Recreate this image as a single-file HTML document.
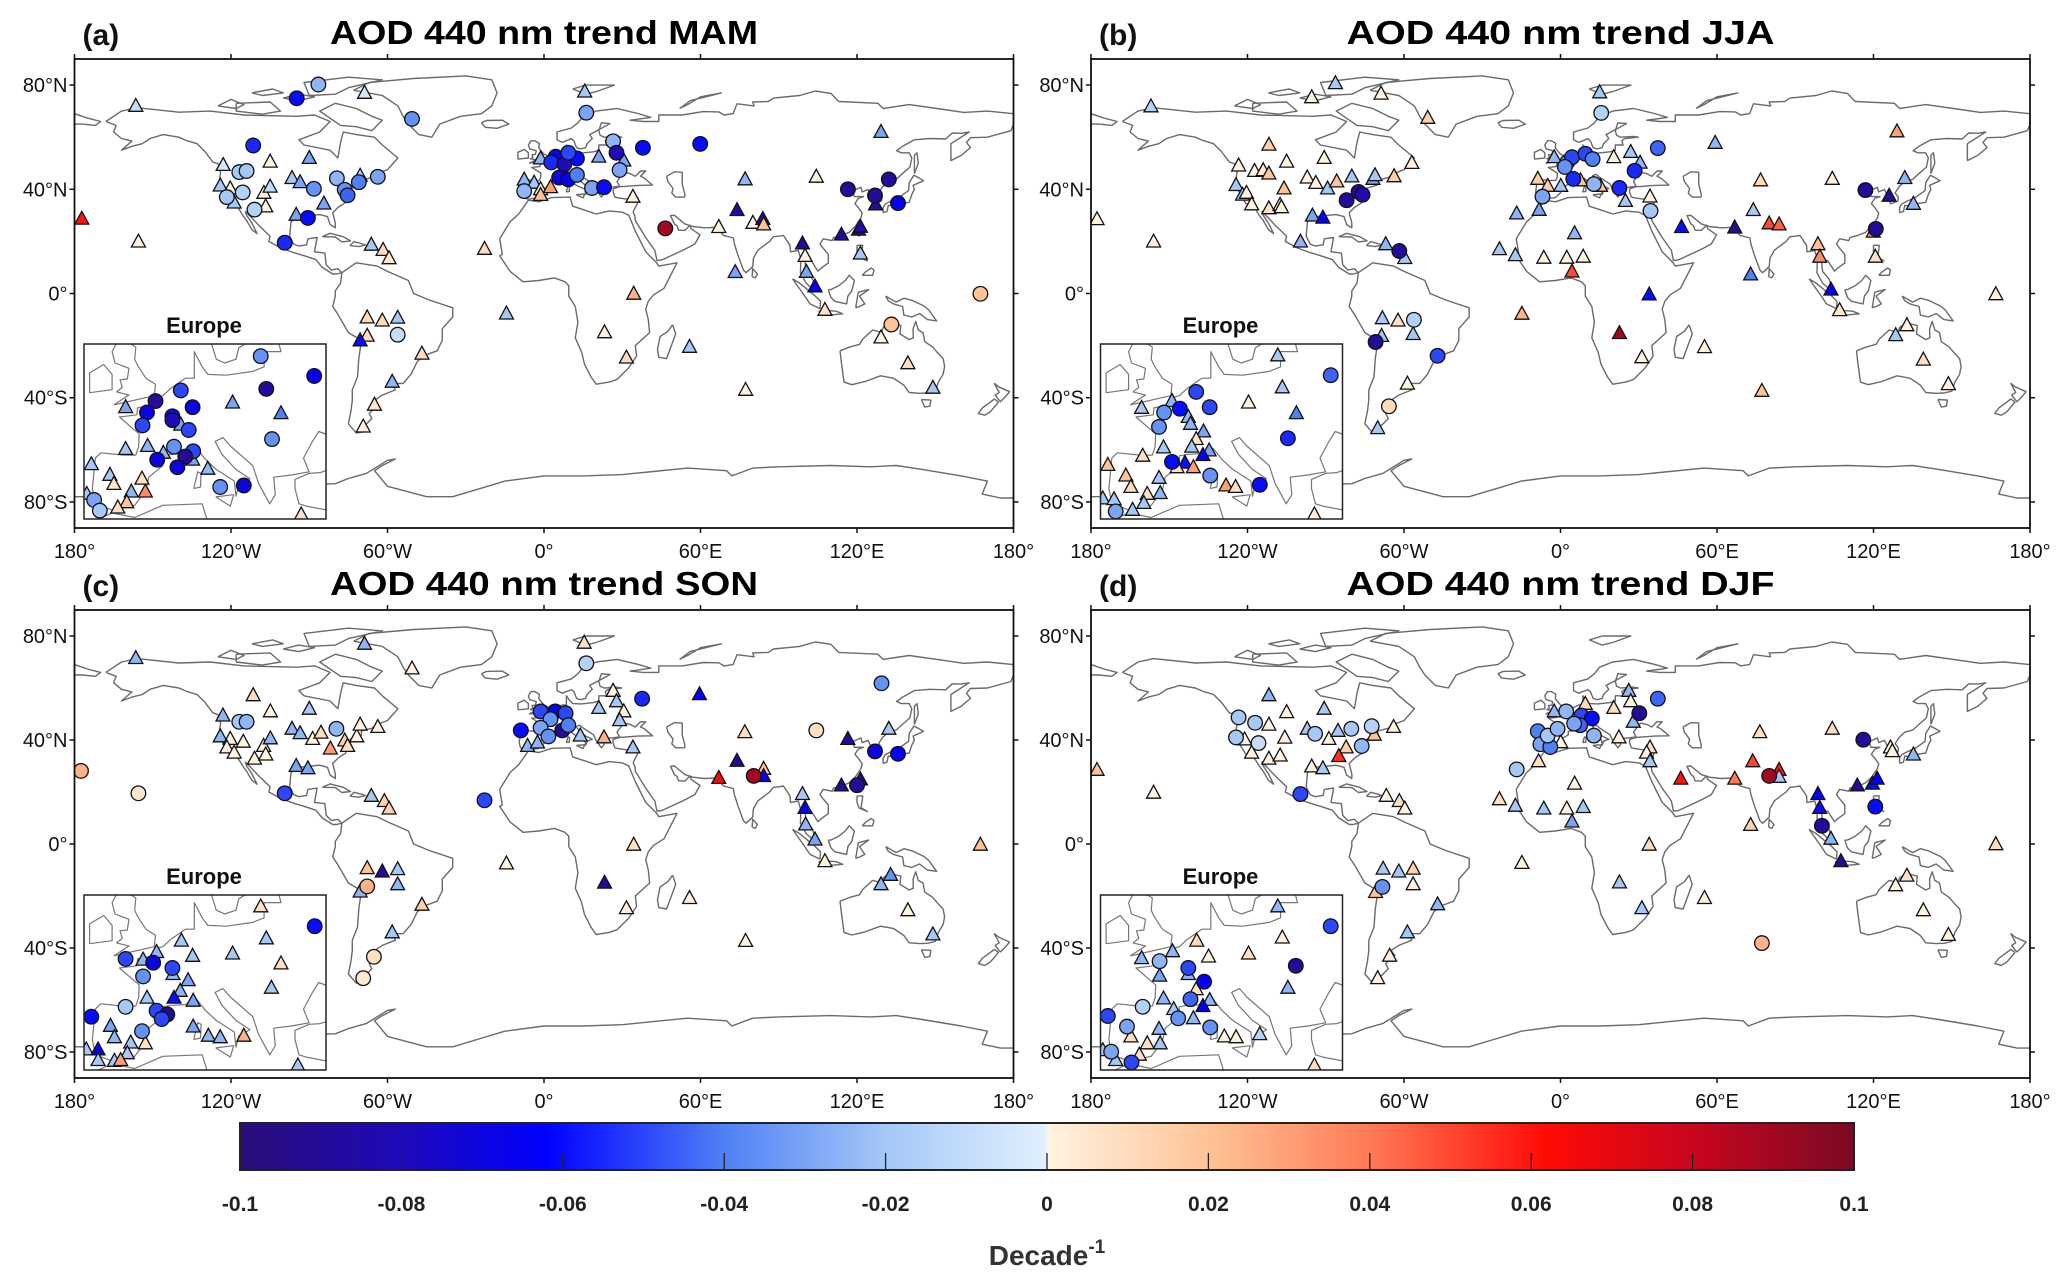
<!DOCTYPE html>
<html><head><meta charset="utf-8"><title>AOD 440 nm seasonal trends</title>
<style>
html,body{margin:0;padding:0;background:#fff;width:2067px;height:1282px;overflow:hidden;}
svg{display:block;font-family:"Liberation Sans",Arial,sans-serif;}
</style></head>
<body>
<svg id="fig" width="2067" height="1282" viewBox="0 0 2067 1282" xmlns="http://www.w3.org/2000/svg">
<defs id="defs"></defs>
</svg>
<script>
// ---------- colour scale ----------
const cbTicks = [-0.1,-0.08,-0.06,-0.04,-0.02,0,0.02,0.04,0.06,0.08,0.1];
const cbTickLabels = ["-0.1","-0.08","-0.06","-0.04","-0.02","0","0.02","0.04","0.06","0.08","0.1"];
const lonTicks = [-180,-120,-60,0,60,120,180];
const lonTickLabels = ["180°","120°W","60°W","0°","60°E","120°E","180°"];
const latTicks = [80,40,0,-40,-80];
const latTickLabels = ["80°N","40°N","0°","40°S","80°S"];

// ---------- panel data: [lon, lat, trend] ----------
const mamCircles = [[-86.5,80.2,-0.025],[-94.8,74.9,-0.06],[-50.6,67,-0.035],[-111.5,56.8,-0.055],[-116.8,46.6,-0.02],[-114,47,-0.02],[-79.4,44.2,-0.025],[-88.2,40.2,-0.035],[-71,42.7,-0.04],[-76.4,39.8,-0.035],[-75.3,37.7,-0.045],[-63.7,44.8,-0.03],[-121.6,37,-0.02],[-115.5,38.8,-0.015],[-111,32.2,-0.015],[-90.5,29,-0.06],[-99.4,19.5,-0.055],[-56.1,-15.8,-0.01],
[-7.6,39.3,-0.025],[4.5,52.5,-0.07],[2.8,50.3,-0.055],[7.8,49.6,-0.08],[12.6,51.8,-0.06],[9.3,54,-0.05],[5.8,44.5,-0.07],[9.3,43.8,-0.065],[12.6,45.5,-0.04],[18.4,40.5,-0.03],[23,40.8,-0.06],[29,47.4,-0.03],[26.5,58.4,-0.025],[27.8,54,-0.08],[37.9,55.9,-0.06],[16.2,69.4,-0.03],[59.9,57.4,-0.06],[46.5,25,0.09],
[116.5,40,-0.09],[132.2,43.8,-0.09],[126.9,37.6,-0.09],[135.7,34.7,-0.065],[167.3,-0.1,0.02],[133.2,-11.9,0.02]];
const mamTriangles = [[-68.8,77,-0.005],[-156.5,72,-0.01],[-90,52,-0.03],[-123,49.3,-0.005],[-105,50.6,0],[-96.6,44.3,-0.02],[-93.5,42.7,-0.03],[-70.5,45.2,-0.015],[-124.1,41.4,-0.02],[-120.3,40.3,0],[-118.8,34.9,-0.02],[-107.4,38.6,0],[-106.7,33.4,0],[-105,41,-0.01],[-95,30.2,-0.03],[-84.4,34.5,-0.03],[-177.2,28.7,0.06],[-155.5,19.9,0],[-66.2,18.7,-0.02],[-61.7,16.7,0.01],[-59.4,13.5,0.004],[-22.8,17.1,0.01],[-14.4,-7.7,-0.02],[-67.8,-9.2,0.01],[-62,-10.4,0.01],[-56.1,-9.3,-0.02],[-67.8,-16.2,0.01],[-70.5,-18,-0.06],[-46.8,-23.1,0.01],[-58.2,-33.9,-0.025],[-65,-42.7,0.005],[-69.3,-51.1,0],
[-1.3,51.8,-0.025],[-7.6,43.7,-0.025],[-3.8,42.5,-0.02],[-1.3,40,0],[2.5,40.8,0.03],[-1.3,37.8,0.02],[21,52.5,-0.03],[30.6,51,-0.03],[34.1,37.1,0],[15.6,77.5,-0.02],
[77.1,43.8,-0.025],[104.4,44.8,0],[74,32,-0.09],[67,25.5,0],[80.1,27.1,0],[83.9,28.6,-0.09],[84.2,26.5,0.02],[129.2,62,-0.03],[99.1,19.2,-0.09],[100.1,14.4,0],[114,22.6,-0.09],[120.6,24.5,-0.09],[121.3,25.6,-0.085],[121.3,15.3,-0.02],[100.6,8.3,-0.03],[103.9,2.7,-0.065],[107.7,-6.3,0.008],[73.3,8.2,-0.03],[34.4,-0.1,0.025],[23.2,-14.9,0],[31.6,-24.6,0.01],[55.8,-20.5,-0.02],[77.3,-37,0],[129.2,-16.9,0],[139.5,-26.8,0.01],[149.1,-36.2,-0.02],[127.1,34.2,-0.09]];
const mamInsetCircles = [[20.4,56.4,-0.035],[29.9,53.8,-0.065],[21.4,52.1,-0.09],[6.2,51.9,-0.05],[1.7,50.5,-0.09],[0.2,49,-0.07],[8.3,49.7,-0.07],[4.7,48.5,-0.06],[4.7,48,-0.08],[-0.6,47.3,-0.05],[7.6,46.7,-0.05],[5,44.5,-0.035],[8.4,43.9,-0.05],[7,43.2,-0.09],[2,42.8,-0.07],[5.6,41.8,-0.07],[22.4,45.5,-0.035],[13.2,39.2,-0.035],[17.4,39.4,-0.07],[-9.2,37.5,-0.03],[-8.2,36.1,-0.02]];
const mamInsetTriangles = [[-3.6,49.7,-0.03],[15.4,50.3,-0.03],[24,48.9,-0.04],[0.3,44.6,-0.025],[-3.6,44.2,-0.02],[-9.7,42.2,-0.02],[-6.4,40.8,-0.02],[-5.7,39.6,0.005],[-0.7,40.3,0.008],[-0.1,38.6,0.035],[-2.6,38.6,-0.025],[-3.4,37.2,0.02],[-5,36.5,0.008],[8.3,42.8,-0.03],[11,41.6,-0.025],[27.6,35.6,0.008],[6.2,47.4,-0.03],[3.1,43.7,-0.025],[-10.5,38.3,-0.02]];

const jjaCircles = [[15.6,69.3,-0.015],[37.3,55.8,-0.045],[-82,35.8,-0.09],[-77.4,39,-0.09],[-75.9,37.9,-0.085],[-61.8,16.3,-0.09],[-56.2,-10.1,-0.015],[-70.9,-18.6,-0.09],[-47.1,-23.9,-0.05],[-65.8,-43.3,0.01],
[2.7,50.5,-0.035],[4.4,52.3,-0.05],[9.5,53.6,-0.05],[12.3,51.6,-0.04],[4.9,44,-0.055],[12.8,42,-0.025],[22.6,40.5,-0.055],[28.4,47.1,-0.055],[-6.9,37.2,-0.03],[1.7,48.6,-0.035],[34.5,31.7,-0.02],[116.9,39.7,-0.09],[120.9,24.8,-0.09]];
const jjaTriangles = [[-86.3,80.7,-0.02],[-95.4,75.3,0],[-68.8,76.7,0],[-157,71.8,-0.015],[-50.9,67.4,0.015],[15,77.2,-0.02],[129,62.2,0.03],[59.3,57.8,-0.025],
[-111.8,57.1,0.015],[-105,50.6,0],[-90.6,52,0],[-123.4,49.1,0],[-117.3,47,0],[-114,47.3,0.004],[-111.8,46,0.02],[-106,40.3,0.02],[-97.1,44.5,0],[-93.8,42.4,0],[-89.3,40.3,-0.02],[-124.4,41.6,-0.02],[-121.9,37.9,-0.02],[-120.4,38.6,0],[-118.4,34.2,0],[-111.8,32.7,0.008],[-107.5,34,0],[-107,33.1,0],[-95.1,29.9,-0.03],[-91.1,29.1,-0.065],[-99.7,19.9,-0.025],[-85.8,43,0.02],[-80,44.9,-0.02],[-71.9,44,-0.03],[-71.1,45.4,-0.02],[-63.8,45,0.015],[-57,50.1,0],[-67,18.9,-0.025],[-59.7,13.6,-0.02],[-177.7,28.5,0],[-156,19.9,0],
[-68.3,-9.5,-0.02],[-62.3,-10.4,0.008],[-68.6,-16.3,-0.02],[-56.5,-15.6,-0.02],[-58.7,-34.6,0],[-70.1,-51.7,-0.02],
[-23.4,17,-0.02],[-17.3,14.7,-0.02],[-6.4,13.7,0],[2.4,13.7,0],[8.7,14.1,0],[5.4,23.1,-0.025],[-16.8,30.7,-0.025],[-8.2,32.1,-0.03],[4.4,8.4,0.05],[-14.8,-7.8,0.025],[34,-0.4,-0.06],[22.6,-15.2,0.09],[31.2,-24.5,0],[55.2,-20.6,0],
[-2.4,52.3,-0.025],[-8.7,44,0.015],[-4.9,41.3,0.015],[0.1,41.3,-0.02],[7.7,43.4,0.02],[20.4,52.3,0],[26.9,54.3,-0.02],[30.5,50.2,-0.025],[34.3,37.2,0],[24.9,35.5,-0.02],[15.3,41.3,0.02],
[104.2,44,0],[76.7,43.4,0.01],[73.9,32,-0.02],[46.4,25.5,-0.06],[66.8,25.3,-0.09],[80,26.9,0.05],[83.8,26.5,0.045],[98.7,18.9,0.02],[99.4,14.1,0.035],[72.9,7.3,-0.04],[103.7,1.5,-0.065],[107,-6.4,0.004],[120.7,14.1,0.008],[132,44.3,-0.025],[135.3,34.4,-0.025],[126,37.5,-0.09],[119.9,23.7,0.035],[166.9,-0.3,0],[132.8,-12.2,0],[128.5,-16,-0.02],[139.1,-25.4,0.008],[148.7,-34.8,0],[77.2,-37.4,0.02]];
const jjaInsetCircles = [[6,51.7,-0.05],[8.4,49.7,-0.05],[3.1,49.5,-0.06],[0.3,49,-0.035],[-0.6,47.1,-0.035],[22.3,45.6,-0.055],[29.9,53.9,-0.045],[1.7,42.5,-0.06],[8.5,40.7,-0.035],[17.3,39.5,-0.06],[-8.3,36,-0.03]];
const jjaInsetTriangles = [[20.5,56.5,-0.02],[21.3,52.3,-0.02],[15.3,50.3,0],[23.8,48.9,-0.04],[-3.7,49.6,-0.02],[1.7,50.5,-0.025],[4.6,48.4,-0.025],[5,47.5,-0.025],[7.3,46.5,-0.03],[6,45.5,0.008],[0.2,44.4,-0.02],[5.2,44.5,-0.02],[8.3,44,-0.03],[7.2,43.4,-0.065],[4,42.4,-0.06],[5.5,41.8,0.03],[2.6,41.8,0.008],[-3.5,43.3,0.008],[-9.7,42.1,0.02],[-6.5,40.7,0.02],[-5.6,39.2,0.01],[-0.6,40.4,-0.02],[-0.4,38.4,-0.025],[-2.7,38.3,0.008],[-3.3,37.1,-0.02],[-10.6,37.7,-0.02],[-8.6,37.6,-0.02],[-5.3,36.2,-0.02],[11.3,39.4,0.03],[13,39.2,0.008],[27,35.6,0]];

const sonCircles = [[-177.5,28.1,0.025],[-155.5,19.5,0.005],[-116.8,47,-0.02],[-114,47,-0.025],[-79.6,44.3,-0.025],[-99.4,19.5,-0.05],[-22.8,16.8,-0.05],[-67.8,-16.3,0.025],[-65.2,-43.4,0.008],[-69.3,-51.6,0.004],[16.2,69.5,-0.015],[37.6,55.9,-0.055],[129.4,61.8,-0.035],[104.4,43.7,0.008],[80.4,26.2,0.09],[126.9,35.6,-0.07],[135.7,34.7,-0.065],[120,22.6,-0.09],
[-8.9,43.7,-0.06],[-1.3,51,-0.05],[4.3,51,-0.065],[2.5,48,-0.035],[8.3,50.3,-0.05],[7,43.7,-0.09],[-1.3,44.7,-0.03],[1.7,41.4,-0.035],[9.3,45.7,-0.04]];
const sonTriangles = [[-156.5,71.5,-0.025],[-68.8,77,-0.025],[-50.6,67.5,0],[-111.5,57.2,0.01],[-123.1,49.4,-0.025],[-104.9,51,0],[-90,52,-0.02],[-96.6,44.3,-0.025],[-93.5,42.6,-0.025],[-88.7,40.4,0],[-85.5,42.8,0.01],[-81.9,36.7,0.03],[-76.4,39.8,0.015],[-75.3,37.7,0.008],[-71.8,41.4,0],[-70.5,45.9,0],[-63.7,45,0],[-124.1,41.4,-0.025],[-120.3,40.4,0],[-121.6,37.1,0],[-118.8,35.1,0],[-115.3,39.3,0],[-111,32.8,0],[-107.5,37.7,0],[-106.7,34.4,0],[-104.9,40.6,-0.025],[-95,30,-0.03],[-90.5,29.1,-0.03],[-66.2,18.5,-0.02],[-61.2,16.5,0.015],[-59.4,13.6,0.015],
[-67.8,-9.3,0.02],[-62,-10.6,-0.09],[-56.1,-9.7,-0.02],[-56.1,-15.5,-0.025],[-70.5,-18.3,-0.025],[-46.8,-23.4,0.015],[-58.2,-34,-0.02],
[-14.4,-7.5,0],[23.2,-14.9,-0.09],[31.6,-24.7,0],[55.8,-20.8,0],[77.3,-37.3,0],[34.4,-0.3,0.008],
[15.4,77.4,0.008],[26.5,58.9,0],[27.8,54.9,-0.02],[30.6,51,0],[29,47.6,-0.02],[21,52.3,-0.02],[23,41,0.025],[34.1,37.1,-0.02],[-6.3,37.7,-0.025],[-2.5,39,-0.025],[13.9,41.7,-0.02],
[59.6,57.6,-0.065],[77,43,0.008],[74,32,-0.09],[67,25.4,0.065],[84.2,28.9,0.02],[84.2,26.1,-0.065],[116.5,40.4,-0.09],[132.2,44.3,-0.02],[114,22.5,-0.09],[121.3,24.8,-0.09],[99.1,19.2,-0.02],[100.1,13.9,-0.065],[100.3,7.5,-0.025],[103.9,1.7,-0.03],[107.7,-6.6,0],[129.2,-15.5,-0.025],[132.9,-11.9,-0.035],[139.5,-25.5,0],[149.1,-34.8,-0.02],[167.3,-0.3,0.02]];
const sonInsetCircles = [[30,53.9,-0.06],[-3.6,49.6,-0.05],[1.3,49.1,-0.07],[4.7,48.4,-0.05],[-0.5,47.3,-0.035],[-3.6,43.3,-0.02],[1.9,42.8,-0.05],[3.8,42.3,-0.09],[2.8,41.7,-0.05],[-0.7,40.1,-0.035],[-9.7,42,-0.06]];
const sonInsetTriangles = [[20.4,56.5,0.008],[21.4,52.3,-0.02],[15.4,50.3,-0.02],[24,49,0.008],[22.3,45.8,-0.02],[6.3,52,-0.02],[8.3,50,-0.02],[1.9,50.5,-0.025],[-0.5,49.5,-0.025],[4.8,47.6,-0.025],[7.5,46.8,-0.03],[6.1,45.4,-0.025],[5,44.5,-0.06],[0.2,44.5,-0.02],[8.4,44.1,-0.03],[8.4,40.7,-0.03],[11.1,39.5,-0.025],[13.2,39.3,-0.025],[17.4,39.5,0.025],[-6.3,40.8,-0.03],[-5.6,39.3,-0.025],[-2.7,38.6,-0.02],[-0.1,38.5,0.008],[-3.3,37.2,-0.02],[-10.6,37.7,-0.02],[-8.5,37.7,-0.065],[-8.5,36.3,-0.02],[-5.6,36.2,-0.02],[-4.5,36.3,0.03],[27,35.6,-0.02]];

const djfCircles = [[-123.4,48.7,-0.02],[-124.4,41,-0.02],[-117.1,46.6,-0.02],[-115.8,38.8,-0.01],[-94.1,42.4,-0.02],[-80.2,44.3,-0.02],[-72.4,45.3,-0.015],[-76.2,37.7,-0.025],[-99.7,19.2,-0.05],[-68.3,-16.5,-0.035],[-16.8,28.7,-0.02],[37.3,55.9,-0.045],[30.2,50.3,-0.09],[80,26.2,0.09],[116.1,40.1,-0.09],[100.2,7,-0.09],[120.7,14.4,-0.06],[77.2,-38.1,0.025],
[-8.7,43.4,-0.04],[-7.7,38.4,-0.03],[-3.9,37.3,-0.04],[-4.9,41.7,-0.02],[-1.1,44.3,-0.025],[2.2,51,-0.025],[8,49.4,-0.05],[12,48.3,-0.06],[7.5,45.7,-0.045],[12.8,41.7,-0.025],[5.2,46.3,-0.03]];
const djfTriangles = [[-177.7,28.5,0.02],[-156,19.7,0],[-111.8,57.2,-0.025],[-105,50.7,0],[-90.6,52,-0.02],[-121.1,40.2,0],[-118.4,35.1,0],[-111.8,32.8,0],[-107.5,34,0],[-111.8,45.9,0],[-105.7,40.9,0],[-97.1,44.3,-0.02],[-95.4,29.8,0],[-91.1,29.1,-0.02],[-88.8,40.4,0],[-85.3,43.5,-0.02],[-82.2,37.1,0.015],[-85,33.8,0.055],[-71.4,42,0.02],[-64,45,0],[-66.8,18.5,0],[-61.8,16.5,0.008],[-59.7,13.6,0],
[-68,-9.5,-0.02],[-62,-10.6,-0.02],[-56.5,-9.5,0.015],[-56.5,-15.5,0],[-70.9,-18.5,0.02],[-47.1,-23.2,-0.025],[-58.7,-34,-0.02],[-65.5,-43,0],[-70.1,-51.6,0],
[-23.4,17.2,0.008],[-17.3,14.7,-0.02],[-6.4,13.6,-0.02],[2.4,13.6,0],[8.7,14.2,-0.02],[4.4,8.6,-0.03],[-8.4,31.8,0.008],[-14.8,-7.3,0],[34,-0.3,0.01],[22.6,-14.8,-0.02],[31.2,-24.7,-0.02],[55.2,-20.8,0],[5.4,23.2,0],
[9.5,53.9,0.01],[20.4,52.3,0.008],[26.2,58.9,-0.025],[26.9,54.9,0],[27.9,47,-0.025],[22.4,41,0],[34.3,37.1,0.008],[33,35.1,0],[34.3,31.8,-0.02],[-2.4,51,-0.025],[0.1,39.1,0],
[76.4,43,0.008],[104.2,44.3,0.008],[73.7,31.8,0.05],[83.8,28.5,0.06],[83.8,25.8,-0.02],[46.1,25.1,0.06],[66.8,25.1,0.04],[72.9,7.3,0.015],[126.5,37.1,0],[127.2,35.7,0],[135.3,34.4,-0.025],[113.8,22.5,-0.09],[119.6,23.2,-0.06],[121.4,25.1,-0.065],[98.7,19.2,-0.065],[99.4,13.9,-0.06],[103.7,2,-0.025],[107.5,-6.6,-0.09],[166.9,-0.1,0.01],[132.8,-12.2,0.008],[128.5,-15.9,0],[139.1,-25.5,0],[148.7,-35,0]];
const djfInsetCircles = [[29.9,53.9,-0.05],[23.7,48.7,-0.09],[-0.5,49.3,-0.025],[4.6,48.4,-0.05],[7.4,46.6,-0.065],[5,44.3,-0.045],[-3.5,43.3,-0.015],[2.8,41.8,-0.035],[8.5,40.6,-0.035],[-9.7,42.1,-0.05],[-6.3,40.7,-0.03],[-9.1,37.4,-0.03],[-5.5,36,-0.05]];
const djfInsetTriangles = [[20.5,56.5,-0.025],[21.3,52.4,0],[15.3,50.3,0.008],[22.3,45.8,-0.025],[6.1,52,0.01],[8.2,49.9,0],[1.8,50.6,-0.025],[-3.7,49.7,-0.025],[-0.5,47.4,-0.03],[4.6,47.6,-0.025],[6,45.6,0.008],[8.4,44.2,-0.025],[7.2,43.4,-0.065],[0.2,44.4,-0.025],[2,43,-0.02],[5.5,41.8,-0.025],[11,39.4,0],[13.1,39.3,0],[17.3,39.7,-0.015],[-0.6,40.4,-0.025],[-5.6,39.4,0.008],[-0.4,38.5,-0.02],[-2.7,38.5,0.008],[-8.3,36.3,-0.02],[-4.1,37,0.008],[-10.6,37.6,-0.02],[27,35.6,0.008]];

// ---------- coastlines (lon,lat) ----------
const coasts = [
[[-168,66],[-162,70],[-156,71.3],[-140,69.6],[-128,70],[-115,68.5],[-95,68],[-88,68.5],[-82,66],[-86,62],[-94,59],[-92,57],[-82,55],[-79,52],[-78,58],[-77,62],[-72,61],[-65,60],[-62,57],[-56,52],[-60,47.5],[-64,46],[-66,44.5],[-70,43.5],[-70,41.7],[-74,40.5],[-76,38],[-76,35],[-79,33],[-81,31],[-80,27],[-80,25.2],[-82,26.5],[-83,29.5],[-86,30.3],[-89,30],[-94,29.5],[-97,27.5],[-97.5,22],[-96,19],[-94,18.2],[-91,18.7],[-90.5,21],[-87,21.5],[-88,16],[-84,15.5],[-83.5,11],[-81.5,9],[-79,9.5],[-77.5,8],[-79.5,7.5],[-81,7.5],[-85,10],[-87.5,13],[-92,14.5],[-96,15.7],[-101,17.5],[-105.5,20],[-105,22],[-109,25.8],[-112.5,29.5],[-114.5,31.5],[-114,30],[-112,27],[-110,23],[-112,24.5],[-114,28],[-115.5,30],[-117,32.5],[-118.5,34],[-120.6,34.5],[-122.5,37.5],[-124,40.5],[-124.5,43],[-124,46.5],[-124.7,48.4],[-123,49],[-127,50.5],[-130,54.5],[-133,57.5],[-137,58.7],[-140,60],[-146,61],[-151,59.5],[-154,57.5],[-158,56.5],[-162,55],[-158,58.5],[-162,59.5],[-165,62],[-164,64.5],[-168,66]],
[[-73,78],[-67,81],[-50,82.5],[-30,83.5],[-20,82],[-18,77],[-20,72],[-24,69],[-32,68],[-40,65],[-43,60],[-48,61],[-52,65],[-54,68],[-56,72],[-62,76],[-73,78]],
[[-80,73],[-72,71],[-66,68],[-62,66.5],[-66,62.5],[-72,64],[-78,64.5],[-86,70],[-80,73]],
[[-90,76],[-80,76.5],[-75,79],[-62,82],[-75,83],[-92,81],[-90,76]],
[[-118,73],[-105,73.5],[-101,70],[-108,68.8],[-118,70],[-118,73]],
[[-125,72],[-120,74.5],[-115,72.5],[-118,71],[-125,72]],
[[-100,75],[-94,76.5],[-88,75.5],[-94,74],[-100,75]],
[[-112,77],[-104,78.5],[-100,77],[-108,76],[-112,77]],
[[-77.5,8],[-72,11.8],[-64,10.5],[-60,8.5],[-52,5],[-50,0],[-44,-2.5],[-35,-5.5],[-35,-9],[-39,-13.5],[-39,-18],[-41,-22],[-45,-23.5],[-48.5,-26],[-51,-31],[-54,-34.5],[-58,-34.5],[-57,-37],[-62,-39],[-65,-41],[-63.5,-42.8],[-67,-46],[-66,-48],[-69,-51],[-68.5,-53],[-72,-53.5],[-75,-50],[-74,-45],[-73.5,-41],[-73.5,-37],[-71.5,-32],[-71,-25],[-70,-18],[-75,-15],[-79,-8],[-81,-5],[-80,-1],[-80,1],[-78,4],[-77.5,8]],
[[-17,21],[-16,15],[-17,14.5],[-13,8.5],[-8,4.5],[-2,5],[4,6],[8,4.5],[9.5,3],[9.5,-1],[12,-5],[13,-11],[12,-17],[14.5,-22.7],[15.5,-27],[18,-32],[20,-34.8],[25,-34],[28,-33],[32.5,-28.5],[35.5,-24],[35,-20],[40.5,-15],[40,-10],[39,-6],[40,-3],[42,-0.5],[46,2],[51,11.8],[44,10.5],[43,12],[39,16],[37,20],[35,24],[32.5,30],[30,31.2],[25,31.7],[20,30.5],[15,32.2],[11,33.5],[10,37],[3,36.8],[-2,35.2],[-6,35.8],[-9.7,30.5],[-13,27.5],[-17,21]],
[[-9,43],[-9.5,39],[-9,37],[-6,36.2],[-2,36.8],[0,38.7],[0.5,40.5],[3,42],[3,43.3],[4.5,43.5],[7,43.6],[9,44.3],[10.5,42.9],[12.5,41.5],[15.7,40],[16,38],[16.5,39.5],[18.5,40.3],[16,41.5],[13.5,43.5],[12.3,45.2],[13.7,45.7],[15,44.6],[19,42],[20,39.7],[22,37],[23,38.2],[22.7,40.5],[26,40.8],[29,41.2],[28,43],[29.6,45.2],[30.7,46.5],[33,46],[35,45],[37,47],[39,47],[37,45],[38.5,44.3],[41.6,41.6],[36,41.5],[31,41.1],[29,41],[26.5,40.2],[26.5,39],[27.2,37],[28.5,36.7],[32,36.2],[36,36.8],[35.8,34.5],[35,33],[34.2,31.3],[34.9,29.5],[35,28],[39,21.5],[42.5,16.5],[43.3,12.7],[45,12.8],[52,16],[55,17.5],[57.8,19],[59.8,22.5],[56.4,24.9],[56,26.2],[54,24.2],[51.6,24.3],[51,26],[50,26.7],[48.5,29.9],[50,30],[54,26.7],[57,25.7],[61.5,25.2],[66.5,25.4],[67.5,23.9],[68.8,22.3],[72.6,21.3],[73,19],[74.4,14.5],[76.5,8.9],[77.5,8],[80,10.3],[80.3,13.5],[82,16.6],[86.5,20],[88,21.8],[90,22],[91.8,22.3],[94.3,18.5],[94.5,16],[97.5,16.5],[98.5,13],[98.3,8],[100.5,4],[103.5,1.3],[104.2,1.4],[103,5.5],[100.5,8.5],[100,13.4],[102.5,12.5],[105,8.6],[106.5,9.9],[109,11.7],[109,15],[106.5,18],[105.8,19],[107,21],[110.5,20.3],[111,21.5],[114,22.3],[117,23.5],[119.5,26],[121.5,29],[122,30.8],[120.8,32.6],[119.2,34.5],[120.5,36.5],[122.5,37.2],[119,37.2],[118.5,38.5],[117.5,38.7],[118,39.2],[121.5,40.8],[122,39],[124.2,39.9],[125.3,37.7],[126.6,34.4],[129.4,35.5],[129.5,37],[128.3,38.6],[129.8,41],[132,43],[135,43.8],[138,46.5],[140.3,48.5],[141,52],[140,54],[137,54],[135.2,54.8],[137.5,56.5],[142,59],[148,59.5],[154,59.3],[156.5,61.6],[160,61.5],[163,62],[156,57.5],[156,51],[160,53],[163.5,56],[162,58],[163.5,59.8],[170,60],[179,62.5],[180,65],[180,69],[170,70],[161,69.5],[152,70.8],[140,72.5],[130,71],[128,73],[113,73.7],[110,76.8],[104,77.7],[98,76],[88,75],[86,73.7],[80,73.5],[80.5,72],[74,72.8],[72.5,69],[69,68.5],[67,69.7],[61,69.8],[53,68.5],[44,68.5],[44,66],[38,66],[33,66.5],[41,67.6],[36,69.1],[28,71],[20,70],[15,68],[13,65.5],[10.5,63.5],[5,62],[5,59],[7,58],[10.5,59.4],[11.5,58.5],[12.5,56],[14,55.5],[16,56],[16.5,57.5],[18.5,59.5],[17.5,61],[21.3,63],[25.3,65.2],[22,65.5],[21.5,64],[21,62.5],[21.5,60.7],[23,60],[28,60.3],[29.8,60],[24.5,59.4],[23.5,58.6],[24,57],[21,57],[21,55],[19,54.4],[14.3,53.9],[11,54],[10,55],[8.6,57],[8.6,55.4],[8.6,53.5],[7,53.5],[4.5,52.2],[3,51.2],[1.6,50.9],[1.3,50],[-1.5,49.6],[-1.6,48.7],[-4.7,48.4],[-2.5,47],[-1.2,46.2],[-1.3,44.5],[-1.8,43.4],[-4,43.4],[-8,43.7],[-9,43]],
[[-180,69],[-175,67.3],[-170,66],[-172,64.5],[-177,65],[-180,65]],
[[-5.7,50],[1.5,51.2],[1.7,52.7],[0,53.5],[-1.5,55.2],[-2,56],[-1.8,57.6],[-3.5,58.6],[-5,58.6],[-6,57],[-5.5,55.5],[-3,54.8],[-3.3,53.4],[-4.6,53.3],[-4.2,52.3],[-5.2,51.7],[-3,51.3],[-5.7,50]],
[[-10,51.6],[-6,52],[-6,54],[-7.5,55.3],[-10,54.2],[-10,51.6]],
[[130,31],[131.5,31.5],[132,33.8],[135,33.5],[137,34.5],[140,35],[141,38],[142,40],[141.5,41.5],[145.5,43.3],[144,44.2],[141.8,45.4],[140,42.5],[139.8,39.5],[136,36.8],[133,35.5],[130.8,34.3],[130,33],[130,31]],
[[49.3,-12],[50.5,-15.5],[47,-25],[44,-24.5],[43.5,-21.5],[44.5,-16.5],[47.5,-14.5],[49.3,-12]],
[[113.5,-22],[114,-26.5],[115,-34],[118,-35],[123,-33.8],[129,-31.6],[134,-32.5],[138,-35.2],[140,-38],[144,-38.3],[147,-38.2],[150,-37.5],[151.2,-34],[153,-31],[153.6,-28],[153,-25],[150.8,-22.6],[149,-20.5],[146,-18.5],[145.3,-15],[143.5,-14],[142.5,-10.7],[141.5,-13.5],[141.6,-17],[140,-17.7],[136.5,-15.5],[136.8,-12.3],[132.5,-11.3],[130,-13],[129.5,-14.9],[126,-14],[122.2,-17.5],[121,-19.5],[117,-20.6],[113.5,-22]],
[[144.7,-40.7],[148.3,-40.9],[148,-43.2],[146,-43.6],[144.7,-40.7]],
[[172.6,-34.4],[174.3,-35.8],[178.5,-37.7],[177,-39.5],[175,-41.5],[174.5,-41],[173,-39],[174.5,-38],[172.6,-34.4]],
[[172.7,-40.5],[174.2,-41.7],[172.5,-43.8],[171,-45.5],[169,-46.7],[166.5,-46],[168,-44],[172.7,-40.5]],
[[95.3,5.6],[98,4],[104,-1],[106,-3],[105.8,-5.8],[102,-4],[100,-1],[95.3,5.6]],
[[109,1.5],[110,-1.5],[111.5,-3],[116,-4],[116.5,-1],[118,1],[119,5],[117,7],[115.5,5],[113,3],[110,1.5],[109,1.5]],
[[105.3,-6.8],[108,-6.5],[112,-6.8],[114.5,-7.8],[110,-8.2],[106,-7.4],[105.3,-6.8]],
[[119.5,-5.5],[120.5,0.5],[124.5,1.5],[121,-1],[123,-4],[121,-5],[119.5,-5.5]],
[[131,-1],[135,-3.3],[138,-1.8],[141,-2.6],[145.7,-4.8],[147.5,-6.3],[150.5,-10.5],[147,-10],[144,-7.7],[141,-9],[138,-8.3],[137.5,-5],[134,-4],[132,-2.8],[131,-1]],
[[120,18.5],[122.2,18.5],[122,16.5],[121.5,14],[124,12.5],[120.8,13.8],[120,16],[120,18.5]],
[[122,7],[126,7],[126.5,9],[125.5,9.8],[123.5,8.5],[122,7]],
[[120.2,22.6],[121,25],[122,25],[121.5,22.8],[120.8,22],[120.2,22.6]],
[[79.8,6.5],[80,9.5],[81.8,7.5],[81,6],[79.8,6.5]],
[[-24,65.5],[-22,66.4],[-16,66.5],[-13.5,65],[-18,63.4],[-22.5,63.8],[-24,65.5]],
[[-85,21.8],[-82,23.1],[-77,21.8],[-74.2,20.2],[-77.5,19.8],[-80,21.7],[-85,21.8]],
[[-74.4,18.4],[-72.8,19.9],[-69.5,19],[-68.4,18.6],[-71,18],[-74.4,18.4]],
[[11,78.5],[16,80],[27,80],[20,77.5],[16,76.5],[11,78.5]],
[[52,71],[56,74],[68,77],[60,75.5],[55,72.5],[52,71]],
[[142,46],[143.5,50],[143,54],[142,53],[142,46]],
[[47,45],[50,46.7],[53,46.5],[53,42],[54,38],[53.9,37],[50.5,37],[49,38.5],[49.5,40.3],[47.5,43],[47,45]],
[[8.5,39],[9.7,39.2],[9.8,41],[9.2,41.2],[8.5,39]],
[[12.4,37.9],[15.6,38.2],[15,36.7],[12.4,37.9]],
[[-180,-78],[-160,-78],[-150,-76.5],[-136,-74.5],[-120,-74],[-100,-73.5],[-80,-73],[-75,-71],[-68,-69],[-60,-64],[-57,-63.5],[-62,-66],[-65,-68],[-60,-74],[-45,-78],[-35,-78],[-25,-75],[-15,-72],[0,-70],[15,-70],[30,-69.5],[40,-68.5],[55,-67],[70,-68],[72,-70],[80,-67],[90,-66.5],[110,-66],[125,-66.5],[135,-66],[145,-67.5],[160,-70],[170,-72],[168,-77],[175,-78.5],[180,-78.5]]
];

// ---------- layout ----------
const panels = [
 {id:"mam", tag:"(a)", title:"AOD 440 nm trend MAM", x:74.5, y:59, w:939, h:469, circles:mamCircles, tris:mamTriangles, ic:mamInsetCircles, it:mamInsetTriangles},
 {id:"jja", tag:"(b)", title:"AOD 440 nm trend JJA", x:1091, y:59, w:939, h:469, circles:jjaCircles, tris:jjaTriangles, ic:jjaInsetCircles, it:jjaInsetTriangles},
 {id:"son", tag:"(c)", title:"AOD 440 nm trend SON", x:74.5, y:610, w:939, h:468, circles:sonCircles, tris:sonTriangles, ic:sonInsetCircles, it:sonInsetTriangles},
 {id:"djf", tag:"(d)", title:"AOD 440 nm trend DJF", x:1091, y:610, w:939, h:468, circles:djfCircles, tris:djfTriangles, ic:djfInsetCircles, it:djfInsetTriangles}
];
const NS = "http://www.w3.org/2000/svg";
const svg = document.getElementById("fig");
const defs = document.getElementById("defs");

const cStops = [[-0.1,[42,12,120]],[-0.08,[30,10,185]],[-0.062,[0,0,255]],[-0.04,[80,128,245]],[-0.02,[165,200,247]],[-0.0001,[225,240,255]],[0,[255,243,224]],[0.02,[255,195,151]],[0.04,[255,122,85]],[0.062,[255,10,5]],[0.08,[200,6,30]],[0.1,[122,10,37]]];
function colorOf(v){
  v = Math.max(-0.1, Math.min(0.1, v));
  for(let i=0;i<cStops.length-1;i++){
    const a=cStops[i], b=cStops[i+1];
    if(v>=a[0] && v<=b[0]){
      const t=(v-a[0])/(b[0]-a[0]);
      const c=a[1].map((x,k)=>Math.round(x+(b[1][k]-x)*t));
      return "rgb("+c.join(",")+")";
    }
  }
  return "#fff";
}
function mk(tag, attrs, parent){
  const e=document.createElementNS(NS,tag);
  for(const k in attrs) e.setAttribute(k, attrs[k]);
  (parent||svg).appendChild(e);
  return e;
}
function xOf(p,lon){ return p.x + (lon+180)/360*p.w; }
function yOf(p,lat){ return p.y + (90-lat)/180*p.h; }
const INS = {dx:9.5, dy:285, w:242, h:175, lon0:-11, lon1:32, lat0:58, lat1:35};
function ixOf(p,lon){ return p.x+INS.dx + (lon-INS.lon0)/(INS.lon1-INS.lon0)*INS.w; }
function iyOf(p,lat){ return p.y+INS.dy + (INS.lat0-lat)/(INS.lat0-INS.lat1)*INS.h; }
function clampX(p,x){ return Math.max(p.x+INS.dx-3, Math.min(p.x+INS.dx+INS.w+3, x)); }
function clampY(p,y){ return Math.max(p.y+INS.dy-3, Math.min(p.y+INS.dy+INS.h+3, y)); }
function touchesInset(poly){
  return poly.some(q=>q[0]>=INS.lon0-15 && q[0]<=INS.lon1+15 && q[1]>=INS.lat1-10 && q[1]<=INS.lat0+10);
}

function pathFor(poly, fx, fy){
  return poly.map((q,i)=>(i?"L":"M")+fx(q[0]).toFixed(1)+","+fy(q[1]).toFixed(1)).join("");
}
function circle(g, cx, cy, v, r){
  const c = mk("circle",{cx:cx.toFixed(1), cy:cy.toFixed(1), r:r, fill:colorOf(v), stroke:"#111", "stroke-width":1.3}, g);
  
  
}
function tri(g, cx, cy, v, s){
  const d = "M"+(cx).toFixed(1)+","+(cy-s*0.62).toFixed(1)+"L"+(cx+s*0.58).toFixed(1)+","+(cy+s*0.45).toFixed(1)+"L"+(cx-s*0.58).toFixed(1)+","+(cy+s*0.45).toFixed(1)+"Z";
  const t = mk("path",{d:d, fill:colorOf(v), stroke:"#111", "stroke-width":1.3, "stroke-linejoin":"miter"}, g);
  
  
}

panels.forEach(p=>{
  const g = mk("g",{});
  
  
  const cp = mk("clipPath",{id:"clip-"+p.id}, defs);
  mk("rect",{x:p.x,y:p.y,width:p.w,height:p.h}, cp);
  const icp = mk("clipPath",{id:"iclip-"+p.id}, defs);
  mk("rect",{x:p.x+INS.dx,y:p.y+INS.dy,width:INS.w,height:INS.h}, icp);

  const tag = mk("text",{x:p.x+8, y:p.y-14, "font-size":30, "font-weight":"bold", fill:"#111"}, g);
  tag.textContent = p.tag;
  
  
  const tt = mk("text",{x:p.x+p.w/2, y:p.y-15, "font-size":33, "font-weight":"bold", "text-anchor":"middle", textLength:428, lengthAdjust:"spacingAndGlyphs", fill:"#000"}, g);
  tt.textContent = p.title;
  
  

  const cg = mk("g",{"clip-path":"url(#clip-"+p.id+")"}, g);
  
  
  coasts.forEach(poly=>{
    mk("path",{d:pathFor(poly, l=>xOf(p,l), l=>yOf(p,l)), fill:"none", stroke:"#6a6a6a", "stroke-width":1.4, "stroke-linejoin":"round"}, cg);
  });

  const mg = mk("g",{"clip-path":"url(#clip-"+p.id+")"}, g);
  
  
  p.tris.forEach(d=>tri(mg, xOf(p,d[0]), yOf(p,d[1]), d[2], 12));
  p.circles.forEach(d=>circle(mg, xOf(p,d[0]), yOf(p,d[1]), d[2], 7.3));

  const ig = mk("g",{}, g);
  
  
  mk("rect",{x:p.x+INS.dx, y:p.y+INS.dy, width:INS.w, height:INS.h, fill:"#fff", stroke:"none"}, ig);
  const icg = mk("g",{"clip-path":"url(#iclip-"+p.id+")"}, ig);
  coasts.filter(touchesInset).forEach(poly=>{
    mk("path",{d:pathFor(poly, l=>clampX(p,ixOf(p,l)), l=>clampY(p,iyOf(p,l))), fill:"none", stroke:"#777", "stroke-width":1.2, "stroke-linejoin":"round"}, icg);
  });
  p.it.forEach(d=>tri(icg, ixOf(p,d[0]), iyOf(p,d[1]), d[2], 12));
  p.ic.forEach(d=>circle(icg, ixOf(p,d[0]), iyOf(p,d[1]), d[2], 7.3));
  mk("rect",{x:p.x+INS.dx, y:p.y+INS.dy, width:INS.w, height:INS.h, fill:"none", stroke:"#222", "stroke-width":1.5}, ig);
  const el = mk("text",{x:p.x+INS.dx+120, y:p.y+INS.dy-11, "font-size":22, "font-weight":"bold", "text-anchor":"middle", fill:"#111"}, ig);
  el.textContent = "Europe";
  
  

  const fr = mk("rect",{x:p.x, y:p.y, width:p.w, height:p.h, fill:"none", stroke:"#111", "stroke-width":1.8}, g);
  
  
  const xa = mk("g",{}, g);
  
  
  lonTicks.forEach((lon,i)=>{
    const x = xOf(p,lon);
    mk("line",{x1:x,x2:x,y1:p.y,y2:p.y-5,stroke:"#111","stroke-width":1.5}, xa);
    mk("line",{x1:x,x2:x,y1:p.y+p.h,y2:p.y+p.h+5,stroke:"#111","stroke-width":1.5}, xa);
    const t = mk("text",{x:x, y:p.y+p.h+30, "font-size":20, "text-anchor":"middle", fill:"#111"}, xa);
    t.textContent = lonTickLabels[i];
    
    
  });
  const ya = mk("g",{}, g);
  
  
  latTicks.forEach((lat,i)=>{
    const y = yOf(p,lat);
    mk("line",{x1:p.x,x2:p.x-5,y1:y,y2:y,stroke:"#111","stroke-width":1.5}, ya);
    mk("line",{x1:p.x+p.w,x2:p.x+p.w+5,y1:y,y2:y,stroke:"#111","stroke-width":1.5}, ya);
    const t = mk("text",{x:p.x-7, y:y+7, "font-size":20, "text-anchor":"end", fill:"#111"}, ya);
    t.textContent = latTickLabels[i];
    
    
  });
});

// ---------- colorbar ----------
const CB = {x:240, y:1123, w:1614, h:47};
function cbX(v){ return CB.x + (v+0.1)/0.2*CB.w; }
const cbg = mk("g",{});


const grad = mk("linearGradient",{id:"cbgrad", x1:"0", x2:"1", y1:"0", y2:"0"}, defs);
cStops.forEach(s=>{
  mk("stop",{offset:((s[0]+0.1)/0.2*100).toFixed(3)+"%", "stop-color":"rgb("+s[1].join(",")+")"}, grad);
});
mk("rect",{x:CB.x, y:CB.y, width:CB.w, height:CB.h, fill:"url(#cbgrad)", stroke:"#222", "stroke-width":2}, cbg);
cbTicks.forEach((v,i)=>{
  const x = cbX(v);
  if(i>0 && i<cbTicks.length-1) mk("line",{x1:x,x2:x,y1:CB.y+CB.h,y2:CB.y+CB.h-17,stroke:"#222","stroke-width":1.3}, cbg);
  const t = mk("text",{x:x, y:1211, "font-size":21, "font-weight":"bold", "text-anchor":"middle", fill:"#222"}, cbg);
  t.textContent = cbTickLabels[i];
  
  
});
const cl = mk("text",{x:1047, y:1265, "font-size":28, "font-weight":"bold", "text-anchor":"middle", fill:"#333"}, cbg);


cl.textContent = "Decade";
const sup = mk("tspan",{dy:-12, "font-size":19}, cl);
sup.textContent = "-1";
</script>
</body></html>
